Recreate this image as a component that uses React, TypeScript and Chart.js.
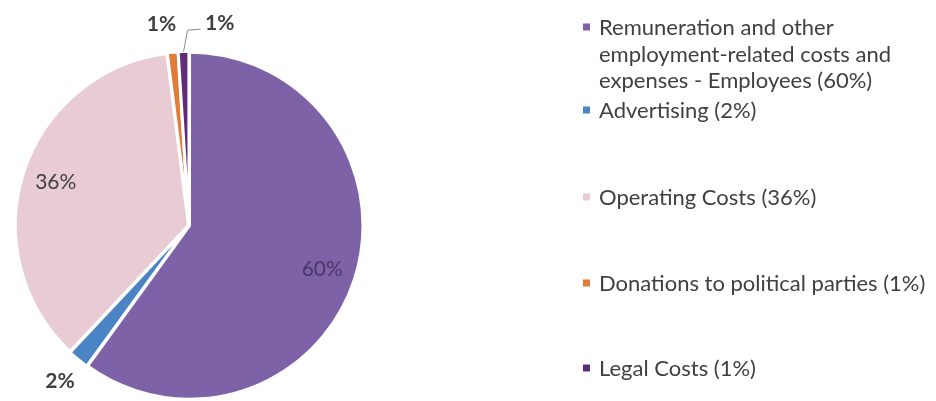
import React, { useEffect, useRef } from "react";
import { Chart, registerables } from "chart.js";

Chart.register(...registerables);

const categories = [
  "Remuneration and other employment-related costs and expenses - Employees",
  "Advertising",
  "Operating Costs",
  "Donations to political parties",
  "Legal Costs",
];
const shares = [60, 2, 36, 1, 1];
const sliceColors = ["#7D62A8", "#4A84C4", "#E9CBD4", "#E07B39", "#5F2C7A"];

const FONT_FAMILY = "Lato, 'Open Sans', sans-serif";
const TEXT_COLOR = "#404040";

const pieLabelsPlugin = {
  id: "pieLabels",
  afterDatasetsDraw(chart: any) {
    const ctx = chart.ctx;
    const meta = chart.getDatasetMeta(0);
    const pts = meta.data.map((arc: any, i: number) => {
      const p = arc.getProps(["x", "y", "startAngle", "endAngle", "outerRadius"], true);
      const mid = (p.startAngle + p.endAngle) / 2;
      const small = shares[i] < 5;
      const r = small ? p.outerRadius * 1.17 : p.outerRadius * 0.81;
      return {
        i,
        mid,
        small,
        p,
        x: p.x + Math.cos(mid) * r,
        y: p.y + Math.sin(mid) * r,
        leader: false,
      };
    });
    for (let k = 1; k < pts.length; k++) {
      const a = pts[k - 1];
      const b = pts[k];
      if (a.small && b.small && Math.abs(a.x - b.x) < 40 && Math.abs(a.y - b.y) < 20) {
        a.x -= 8.5;
        b.x += 37;
        b.leader = true;
      }
    }
    ctx.save();
    ctx.textAlign = "center";
    ctx.textBaseline = "middle";
    pts.forEach((pt: any) => {
      const text = `${shares[pt.i]}%`;
      if (pt.leader) {
        const R = pt.p.outerRadius + 1;
        const sx = pt.p.x + Math.cos(pt.mid) * R;
        const sy = pt.p.y + Math.sin(pt.mid) * R;
        ctx.strokeStyle = "#8a8a8a";
        ctx.lineWidth = 1;
        ctx.beginPath();
        ctx.moveTo(sx, sy);
        ctx.lineTo(sx + 4, pt.y + 7);
        ctx.lineTo(pt.x - 19, pt.y + 6);
        ctx.stroke();
      }
      if (pt.small) {
        ctx.font = `bold 21px ${FONT_FAMILY}`;
        ctx.fillStyle = TEXT_COLOR;
      } else if (shares[pt.i] >= 50) {
        ctx.font = `21px ${FONT_FAMILY}`;
        ctx.fillStyle = "rgba(60,45,90,0.8)";
      } else {
        ctx.font = `21px ${FONT_FAMILY}`;
        ctx.fillStyle = TEXT_COLOR;
      }
      ctx.fillText(text, pt.x, pt.y);
    });
    ctx.restore();
  },
};

const legendPlugin = {
  id: "sideLegend",
  afterDraw(chart: any) {
    const ctx = chart.ctx;
    const rowY = [27, 110, 197, 283, 368];
    const lineH = 26.5;
    const markerX = 583;
    const textX = 599;
    const maxW = 335;
    ctx.save();
    ctx.font = `22px ${FONT_FAMILY}`;
    ctx.textBaseline = "middle";
    ctx.textAlign = "left";
    categories.forEach((cat, i) => {
      const text = `${cat} (${shares[i]}%)`;
      const words = text.split(" ");
      const lines: string[] = [];
      let cur = "";
      words.forEach((w) => {
        const test = cur ? cur + " " + w : w;
        if (ctx.measureText(test).width > maxW && cur) {
          lines.push(cur);
          cur = w;
        } else {
          cur = test;
        }
      });
      if (cur) lines.push(cur);
      const y0 = rowY[i];
      ctx.fillStyle = sliceColors[i];
      ctx.fillRect(markerX, y0 - 3.5, 7, 7);
      ctx.fillStyle = TEXT_COLOR;
      lines.forEach((ln, k) => ctx.fillText(ln, textX, y0 + k * lineH + 1));
    });
    ctx.restore();
  },
};

export default function App() {
  const canvasRef = useRef<HTMLCanvasElement | null>(null);
  useEffect(() => {
    if (!canvasRef.current) return;
    const chart = new Chart(canvasRef.current, {
      type: "pie",
      data: {
        labels: categories,
        datasets: [
          {
            data: shares,
            backgroundColor: sliceColors,
            borderColor: "#ffffff",
            borderWidth: 3,
            offset: 2,
          },
        ],
      },
      options: {
        animation: false,
        responsive: true,
        maintainAspectRatio: false,
        layout: { padding: { left: 11, top: 50, right: 569, bottom: -5 } },
        plugins: {
          legend: { display: false },
          tooltip: { enabled: false },
        },
      },
      plugins: [pieLabelsPlugin, legendPlugin],
    });
    return () => chart.destroy();
  }, []);
  return (
    <div style={{ position: "absolute", left: 0, top: 0, width: 936, height: 401, background: "#fff" }}>
      <canvas ref={canvasRef} />
    </div>
  );
}
